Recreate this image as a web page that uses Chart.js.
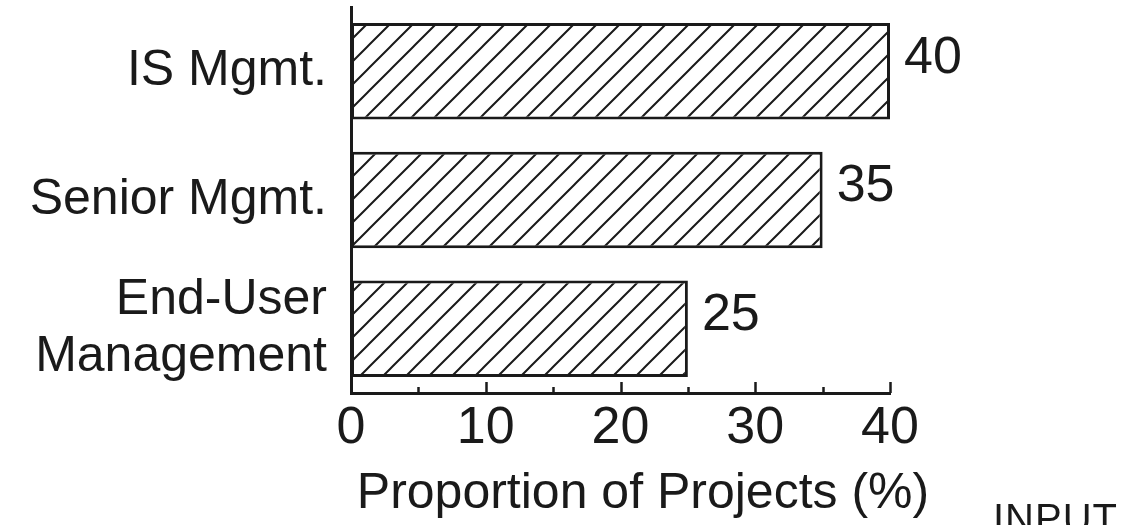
<!DOCTYPE html>
<html>
<head>
<meta charset="utf-8">
<script src="https://cdn.jsdelivr.net/npm/chart.js@4.4.1/dist/chart.umd.min.js"></script>
<style>
  html, body { margin: 0; padding: 0; background: #ffffff; }
  #wrap { width: 1125px; height: 525px; position: relative; }
</style>
</head>
<body>
<div id="wrap"><canvas id="c" width="1125" height="525"></canvas></div>
<script>
// Who initiated the projects, share of projects in percent
const categories = ['IS Mgmt.', 'Senior Mgmt.', ['End-User', 'Management']];
const shares = [40, 35, 25];
const xMin = 0;
const xMax = 40;
const majorStep = 10;
const minorTicks = [5, 15, 25, 35];
const axisTitle = 'Proportion of Projects (%)';
const sourceMark = 'INPUT';

const INK = '#1a1a1a';
const FONT = '"Liberation Sans", Arial, Helvetica, sans-serif';

const canvas = document.getElementById('c');
const ctx = canvas.getContext('2d');

// Diagonal hatching used to fill the bars
function makeHatch() {
  const s = 23;
  const tile = document.createElement('canvas');
  tile.width = s; tile.height = s;
  const g = tile.getContext('2d');
  g.fillStyle = '#ffffff';
  g.fillRect(0, 0, s, s);
  g.strokeStyle = INK;
  g.lineWidth = 2;
  g.lineCap = 'square';
  g.beginPath();
  g.moveTo(-2, s + 2); g.lineTo(s + 2, -2);
  g.moveTo(-2, 2); g.lineTo(2, -2);
  g.moveTo(s - 2, s + 2); g.lineTo(s + 2, s - 2);
  g.stroke();
  return ctx.createPattern(tile, 'repeat');
}

// Small inward tick marks on the value axis
const tickMarks = {
  id: 'tickMarks',
  afterDraw(chart) {
    const x = chart.scales.x;
    const y0 = chart.chartArea.bottom;
    const c = chart.ctx;
    c.save();
    c.strokeStyle = INK;
    c.lineWidth = 2.5;
    const draw = (v, len) => {
      const px = Math.round(x.getPixelForValue(v)) + 0.5;
      c.beginPath();
      c.moveTo(px, y0);
      c.lineTo(px, y0 - len);
      c.stroke();
    };
    for (let v = xMin; v <= xMax; v += majorStep) draw(v, 11);
    minorTicks.forEach(v => draw(v, 6));
    c.restore();
  }
};

// Value printed to the right of each bar
const valueLabels = {
  id: 'valueLabels',
  afterDatasetsDraw(chart) {
    const c = chart.ctx;
    const meta = chart.getDatasetMeta(0);
    c.save();
    c.fillStyle = INK;
    c.font = '52px ' + FONT;
    c.textAlign = 'left';
    c.textBaseline = 'middle';
    meta.data.forEach((bar, i) => {
      c.fillText(String(shares[i]), bar.x + 14, bar.y - 13);
    });
    c.restore();
  }
};

// Axis caption and the small source mark in the corner
const captions = {
  id: 'captions',
  afterDraw(chart) {
    const c = chart.ctx;
    c.save();
    c.fillStyle = INK;
    c.font = '50px ' + FONT;
    c.textAlign = 'center';
    c.textBaseline = 'alphabetic';
    c.fillText(axisTitle, 643, 508);
    c.font = '40px ' + FONT;
    c.letterSpacing = '1px';
    c.textAlign = 'left';
    c.fillText(sourceMark, 993, 532);
    c.restore();
  }
};

new Chart(ctx, {
  type: 'bar',
  data: {
    labels: categories,
    datasets: [{
      data: shares,
      backgroundColor: makeHatch(),
      borderColor: INK,
      borderWidth: 3,
      borderSkipped: false,
      barPercentage: 0.75,
      categoryPercentage: 1
    }]
  },
  options: {
    indexAxis: 'y',
    responsive: false,
    animation: false,
    devicePixelRatio: 1,
    layout: { padding: { top: 7, right: 235, left: 0, bottom: 0 } },
    plugins: { legend: { display: false }, tooltip: { enabled: false } },
    scales: {
      x: {
        min: xMin,
        max: xMax,
        grid: { display: false },
        border: { display: true, color: INK, width: 3 },
        ticks: {
          stepSize: majorStep,
          maxRotation: 0,
          color: INK,
          padding: -4,
          font: { family: FONT, size: 52 }
        },
        afterFit(scale) {
          scale.height = 132;
          scale.paddingLeft = 0;
          scale.paddingRight = 0;
        }
      },
      y: {
        grid: { display: false },
        border: { display: true, color: INK, width: 3 },
        ticks: {
          autoSkip: false,
          color: INK,
          padding: 16,
          font: { family: FONT, size: 50, lineHeight: 1.15 }
        },
        afterFit(scale) {
          scale.width = 351;
          scale.paddingTop = 0;
          scale.paddingBottom = 0;
        }
      }
    }
  },
  plugins: [tickMarks, valueLabels, captions]
});
</script>
</body>
</html>
